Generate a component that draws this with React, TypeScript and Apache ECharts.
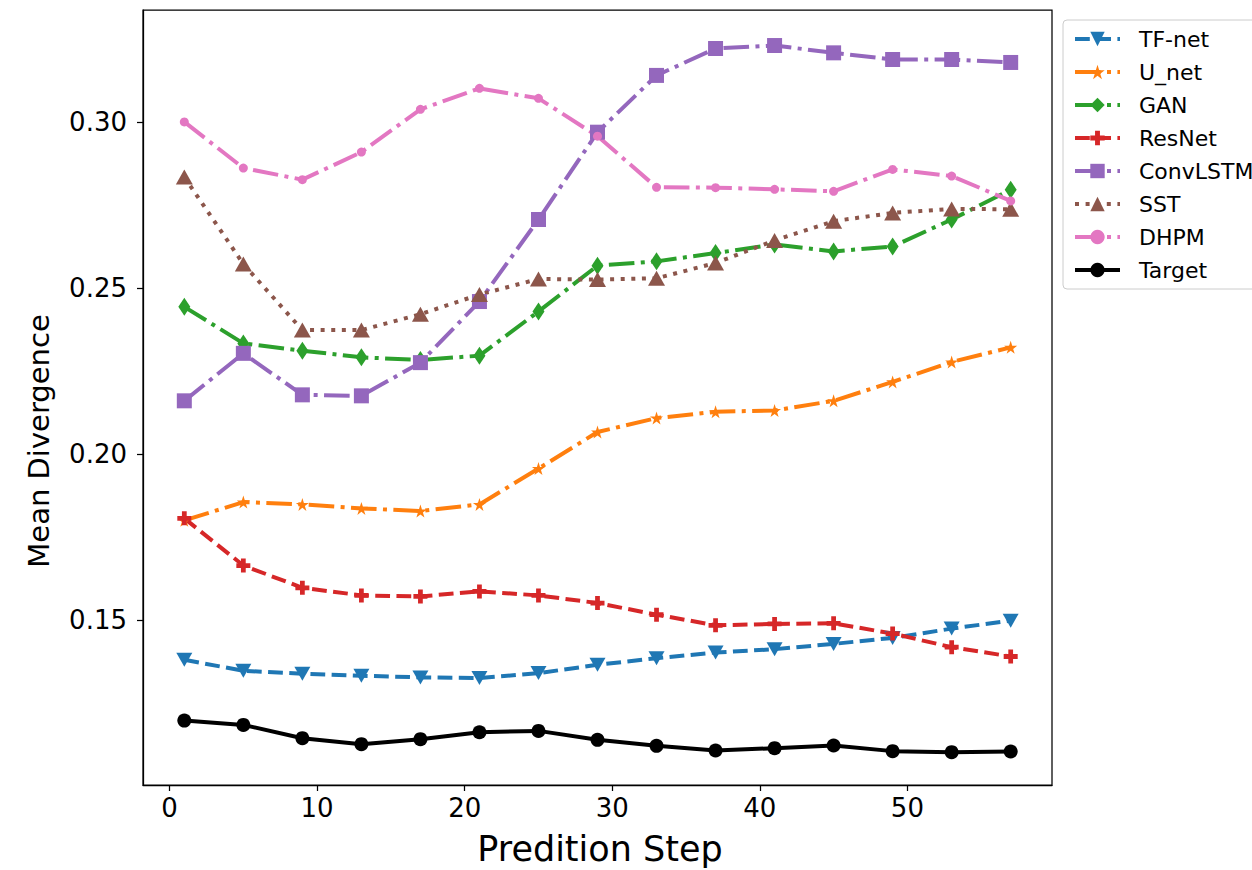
import React, { useEffect, useRef } from "react";
import * as echarts from "echarts";

const steps = [1, 5, 9, 13, 17, 21, 25, 29, 33, 37, 41, 45, 49, 53, 57];

const tfNet = [0.1381, 0.1348, 0.1339, 0.1333, 0.1328, 0.1326, 0.1341, 0.1366, 0.1386, 0.1403, 0.1413, 0.1429, 0.1447, 0.1475, 0.1499];
const uNet = [0.1801, 0.1856, 0.1849, 0.1837, 0.1829, 0.1849, 0.1957, 0.2067, 0.2109, 0.2128, 0.2132, 0.2161, 0.2218, 0.2278, 0.2322];
const gan = [0.2444, 0.2334, 0.2312, 0.2292, 0.2284, 0.2297, 0.2430, 0.2568, 0.2581, 0.2606, 0.2632, 0.2611, 0.2626, 0.2707, 0.2797];
const resNet = [0.1807, 0.1665, 0.1598, 0.1575, 0.1572, 0.1587, 0.1575, 0.1552, 0.1517, 0.1485, 0.1489, 0.1491, 0.1460, 0.1419, 0.1391];
const convLSTM = [0.2161, 0.2304, 0.2179, 0.2176, 0.2276, 0.2460, 0.2707, 0.2970, 0.3141, 0.3222, 0.3231, 0.3209, 0.3189, 0.3189, 0.3180];
const sst = [0.2835, 0.2573, 0.2374, 0.2374, 0.2422, 0.2481, 0.2528, 0.2526, 0.2530, 0.2576, 0.2644, 0.2702, 0.2727, 0.2739, 0.2738];
const dhpm = [0.3001, 0.2862, 0.2827, 0.2910, 0.3039, 0.3102, 0.3072, 0.2958, 0.2804, 0.2803, 0.2798, 0.2792, 0.2858, 0.2838, 0.2763];
const target = [0.1198, 0.1185, 0.1145, 0.1127, 0.1142, 0.1163, 0.1167, 0.1140, 0.1122, 0.1108, 0.1115, 0.1123, 0.1106, 0.1103, 0.1105];

const xTicks = [0, 10, 20, 30, 40, 50];
const yTicks = [0.15, 0.2, 0.25, 0.3];

const STAR = "path://M0,-1 L0.2245,-0.309 L0.951,-0.309 L0.363,0.118 L0.588,0.809 L0,0.382 L-0.588,0.809 L-0.363,0.118 L-0.951,-0.309 L-0.2245,-0.309 Z";
const PLUS = "path://M-1,-0.34 L-0.34,-0.34 L-0.34,-1 L0.34,-1 L0.34,-0.34 L1,-0.34 L1,0.34 L0.34,0.34 L0.34,1 L-0.34,1 L-0.34,0.34 L-1,0.34 Z";

const FONT = "DejaVu Sans";
const LW = 4;
const DASHED = [14.8, 6.4];
const DASHDOT = [25.6, 6.4, 4, 6.4];
const DOTTED = [4, 6.6];

export default function App() {
  const ref = useRef<HTMLDivElement>(null);

  useEffect(() => {
    if (!ref.current) return;
    const chart = echarts.init(ref.current, undefined, { renderer: "svg" });

    const mk = (
      name: string,
      vals: number[],
      color: string,
      dash: any,
      symbol: string,
      symbolSize: any,
      symbolRotate = 0
    ) => ({
      name,
      type: "line",
      data: steps.map((s, i) => [s, vals[i]]),
      symbol,
      symbolSize,
      symbolRotate,
      showAllSymbol: true,
      color,
      itemStyle: { color, borderWidth: 0 },
      lineStyle: { color, width: LW, type: dash, cap: "butt" },
      emphasis: { disabled: true },
      z: 2,
    });

    const series = [
      mk("TF-net", tfNet, "#1f77b4", DASHED, "triangle", [16, 14], 180),
      mk("U_net", uNet, "#ff7f0e", DASHDOT, STAR, 13),
      mk("GAN", gan, "#2ca02c", DASHDOT, "diamond", [12, 18]),
      mk("ResNet", resNet, "#d62728", DASHED, PLUS, 14),
      mk("ConvLSTM", convLSTM, "#9467bd", DASHDOT, "rect", 15),
      mk("SST", sst, "#8c564b", DOTTED, "triangle", [17, 15]),
      mk("DHPM", dhpm, "#e377c2", DASHDOT, "circle", 9),
      mk("Target", target, "#000000", "solid", "circle", 14),
    ];

    chart.setOption({
      animation: false,
      backgroundColor: "#ffffff",
      grid: {
        left: 143,
        top: 10,
        right: 200,
        bottom: 85,
        show: true,
        borderColor: "#000",
        borderWidth: 1.25,
        backgroundColor: "transparent",
      },
      legend: {
        orient: "vertical",
        left: 1063,
        top: 20,
        itemWidth: 45,
        itemHeight: 18,
        itemGap: 11,
        padding: [8, 40, 8, 10],
        borderColor: "#cccccc",
        borderWidth: 1,
        borderRadius: 4,
        backgroundColor: "#ffffff",
        selectedMode: false,
        lineStyle: { width: 4 },
        textStyle: { fontFamily: FONT, fontSize: 22, color: "#000", padding: [0, 0, 0, 14] },
        data: series.map((s) => s.name),
      },
      xAxis: {
        type: "value",
        min: -1.8,
        max: 59.8,
        splitLine: { show: false },
        axisLine: { show: true, onZero: false, lineStyle: { color: "#000", width: 1.25 } },
        axisTick: { show: true, length: 6, customValues: xTicks, lineStyle: { color: "#000", width: 1.25 } },
        axisLabel: {
          customValues: xTicks,
          fontFamily: FONT,
          fontSize: 26,
          color: "#000",
          margin: 10,
        },
      },
      yAxis: {
        type: "value",
        min: 0.1004,
        max: 0.3338,
        splitLine: { show: false },
        axisLine: { show: true, onZero: false, lineStyle: { color: "#000", width: 1.25 } },
        axisTick: { show: true, length: 6, customValues: yTicks, lineStyle: { color: "#000", width: 1.25 } },
        axisLabel: {
          customValues: yTicks,
          fontFamily: FONT,
          fontSize: 26,
          color: "#000",
          margin: 16,
          formatter: (v: number) => v.toFixed(2),
        },
      },
      graphic: [
        {
          type: "text",
          x: 600,
          y: 849,
          style: {
            text: "Predition Step",
            fontFamily: FONT,
            fontSize: 35,
            fill: "#000",
            textAlign: "center",
            textVerticalAlign: "middle",
          },
        },
        {
          type: "text",
          x: 39,
          y: 441,
          rotation: Math.PI / 2,
          style: {
            text: "Mean Divergence",
            fontFamily: FONT,
            fontSize: 29,
            fill: "#000",
            textAlign: "center",
            textVerticalAlign: "middle",
          },
        },
      ],
      series,
    });

    return () => chart.dispose();
  }, []);

  return (
    <div
      ref={ref}
      style={{ position: "fixed", left: 0, top: 0, width: 1252, height: 870 }}
    />
  );
}
